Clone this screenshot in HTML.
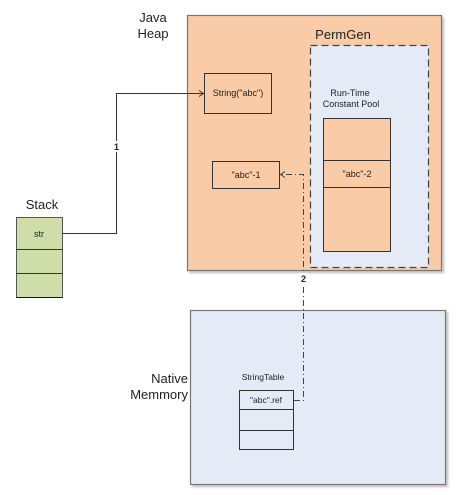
<!DOCTYPE html>
<html><head><style>body{margin:0;background:#fff}svg{display:block}text{font-family:"Liberation Sans",sans-serif;fill:#222}</style></head>
<body>
<svg width="466" height="495" viewBox="0 0 466 495" xmlns="http://www.w3.org/2000/svg">
<defs><filter id="s" x="-5%" y="-5%" width="115%" height="115%"><feDropShadow dx="2" dy="2" stdDeviation="1" flood-color="#000" flood-opacity="0.25"/></filter></defs>
<!-- Heap -->
<rect x="187.5" y="15.5" width="254" height="255" fill="#f9cba6" stroke="#777" stroke-width="1.2" filter="url(#s)"/>
<text x="153" y="22" font-size="13" text-anchor="middle">Java</text>
<text x="153" y="38" font-size="13" text-anchor="middle">Heap</text>
<text x="343" y="39" font-size="13" text-anchor="middle">PermGen</text>
<rect x="310.5" y="45.5" width="118" height="222" fill="#e4ebf6" stroke="#444" stroke-width="1.2" stroke-dasharray="7,4"/>
<text x="350" y="96" font-size="9" text-anchor="middle">Run-Time</text>
<text x="351" y="107" font-size="9" text-anchor="middle">Constant Pool</text>
<rect x="323.5" y="118.5" width="67" height="133" fill="#f9cba6" stroke="#333"/>
<line x1="323.5" y1="160.5" x2="390.5" y2="160.5" stroke="#333"/>
<line x1="323.5" y1="187.5" x2="390.5" y2="187.5" stroke="#333"/>
<text x="357" y="177" font-size="9" text-anchor="middle">"abc"-2</text>
<rect x="204.5" y="73.5" width="67" height="40" fill="#f9cba6" stroke="#333"/>
<text x="238" y="96" font-size="9" text-anchor="middle">String("abc")</text>
<rect x="212.5" y="161.5" width="67" height="27" fill="#f9cba6" stroke="#333"/>
<text x="246" y="178" font-size="9" text-anchor="middle">"abc"-1</text>
<!-- Native -->
<rect x="190.5" y="310.5" width="255" height="174" fill="#e4ebf6" stroke="#777" stroke-width="1.2" filter="url(#s)"/>
<text x="188" y="383" font-size="13" text-anchor="end">Native</text>
<text x="188" y="399" font-size="13" text-anchor="end">Memmory</text>
<text x="263" y="380" font-size="8.5" text-anchor="middle">StringTable</text>
<rect x="239.5" y="390.5" width="54" height="59" fill="#e4ebf6" stroke="#333"/>
<line x1="239.5" y1="409.5" x2="293.5" y2="409.5" stroke="#333"/>
<line x1="239.5" y1="430.5" x2="293.5" y2="430.5" stroke="#333"/>
<text x="266" y="403" font-size="8.5" text-anchor="middle">"abc".ref</text>
<!-- Stack -->
<text x="42" y="209" font-size="13" text-anchor="middle">Stack</text>
<rect x="16.5" y="217.5" width="46" height="80" fill="#cfdea8" stroke="#555"/>
<line x1="16.5" y1="249.5" x2="62.5" y2="249.5" stroke="#333"/>
<line x1="16.5" y1="273.5" x2="62.5" y2="273.5" stroke="#333"/>
<line x1="16.5" y1="297.5" x2="62.5" y2="297.5" stroke="#111"/>
<text x="39" y="237" font-size="9" text-anchor="middle">str</text>
<!-- connector 1 -->
<polyline points="62.5,233.5 116.5,233.5 116.5,93.5 203,93.5" fill="none" stroke="#333"/>
<polyline points="199,90.5 203.5,93.5 199,96.5" fill="none" stroke="#333"/>
<rect x="112" y="141" width="9" height="11" fill="#fff"/>
<text x="116.5" y="150" font-size="9" font-weight="bold" text-anchor="middle">1</text>
<!-- connector 2 -->
<polyline points="294,400.5 303.5,400.5 303.5,174.5 281,174.5" fill="none" stroke="#444" stroke-dasharray="6,3,1,3"/>
<polyline points="285,171.5 280.5,174.5 285,177.5" fill="none" stroke="#444"/>
<rect x="299" y="273" width="9" height="11" fill="#fff"/>
<text x="303.5" y="282" font-size="9" font-weight="bold" text-anchor="middle">2</text>
</svg>
</body></html>
